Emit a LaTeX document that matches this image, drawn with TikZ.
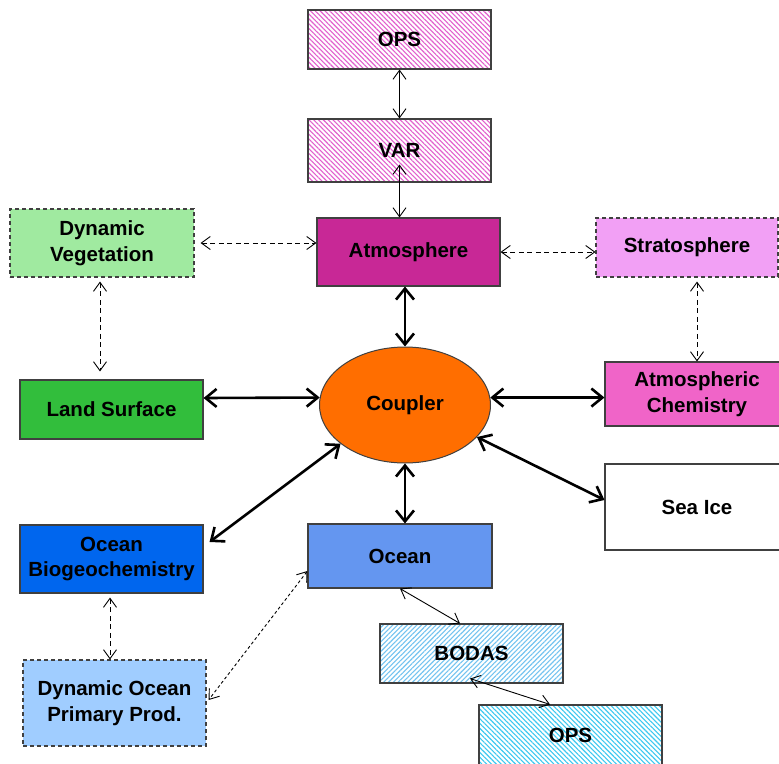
\documentclass[tikz,border=0pt]{standalone}
\usepackage{fontspec}
\setmainfont{Liberation Sans}
\usetikzlibrary{arrows.meta,shapes.geometric,patterns.meta}
\definecolor{pinkS}{RGB}{226,95,205}
\definecolor{atmC}{RGB}{200,40,150}
\definecolor{dvC}{RGB}{160,234,160}
\definecolor{strC}{RGB}{242,160,245}
\definecolor{achC}{RGB}{240,100,200}
\definecolor{landC}{RGB}{50,190,60}
\definecolor{cplC}{RGB}{255,110,0}
\definecolor{obC}{RGB}{0,102,238}
\definecolor{ocC}{RGB}{100,150,240}
\definecolor{dopC}{RGB}{160,205,255}
\definecolor{bodC}{RGB}{115,195,240}
\definecolor{opsC}{RGB}{60,200,240}
\tikzset{
  box/.style={draw=black!75, line width=1.1pt, minimum width=183pt, minimum height=59pt,
    inner sep=0pt, align=center, font=\bfseries\fontsize{20.5}{25.5}\selectfont},
  dbox/.style={box, dash pattern=on 4pt off 3pt},
  hatchA/.style={preaction={fill=white}, preaction={pattern={Lines[angle=-45,distance=3.4pt,line width=1.1pt]}, pattern color=#1}},
  hatchB/.style={preaction={fill=white}, preaction={pattern={Lines[angle=45,distance=3.4pt,line width=1.1pt]}, pattern color=#1}},
  thk/.style={line width=2.6pt, {Straight Barb[length=11pt,width=18pt]}-{Straight Barb[length=11pt,width=18pt]}},
  thn/.style={line width=0.9pt, {Straight Barb[length=9pt,width=13pt]}-{Straight Barb[length=9pt,width=13pt]}},
  dsh/.style={thn, dash pattern=on 5pt off 3.5pt}
}
\begin{document}
\begin{tikzpicture}[x=1pt,y=-1pt]
\useasboundingbox (0,0) rectangle (779,763);
\clip (0,0) rectangle (779,763);
\fill[white] (0,0) rectangle (779,763);
% nodes
\node[box, hatchA=pinkS] (opsA) at (399.5,39.5) {OPS};
\node[box, hatchA=pinkS, minimum height=63pt] (var) at (399.5,150.5) {VAR};
\node[box, fill=atmC, minimum height=68pt] (atm) at (408.5,252) {Atmosphere};
\node[dbox, fill=dvC, minimum width=184pt, minimum height=68pt] (dv) at (102,243) {Dynamic\\Vegetation};
\node[dbox, fill=strC, minimum width=182pt] (str) at (687,247.5) {Stratosphere};
\node[box, fill=achC, minimum width=184pt, minimum height=64pt] (ach) at (697,394) {Atmospheric\\Chemistry};
\node[box, fill=landC] (land) at (111.5,409.5) {Land Surface};
\node[ellipse, draw=black!75, line width=1pt, fill=cplC, minimum width=171pt, minimum height=116pt, inner sep=0pt,
  font=\bfseries\fontsize{20.5}{25.5}\selectfont] (cpl) at (405,405) {Coupler};
\node[box, fill=white, minimum width=184pt, minimum height=86pt] (sea) at (697,507) {Sea Ice};
\node[box, fill=obC, minimum height=68pt] (obio) at (111.5,559) {Ocean\\Biogeochemistry};
\node[box, fill=ocC, minimum width=184pt, minimum height=64pt] (ocean) at (400,556) {Ocean};
\node[dbox, fill=dopC, minimum height=86pt] (dop) at (114.5,703) {Dynamic Ocean\\Primary Prod.};
\node[box, hatchB=bodC] (bod) at (471.5,653.5) {BODAS};
\node[box, hatchA=opsC, minimum height=60pt] (opsB) at (570.5,735) {OPS};
% connectors
\draw[thn] (opsA.south) -- (var.north);
\draw[thn] ([yshift=18pt]var.south) -- (var.south |- atm.north);
\draw[thk] (cpl.north |- atm.south) -- (cpl.north);
\draw[dsh] ([xshift=6pt]dv.east) -- (atm.west |- dv.east);
\draw[dsh] (atm.east) -- (str.west |- atm.east);
\draw[dsh] ([xshift=-2pt,yshift=-4pt]dv.south) -- ([xshift=-11.5pt,yshift=8pt]land.north);
\draw[dsh] ([xshift=10pt,yshift=-4pt]str.south) -- ([xshift=0pt]ach.north);
\draw[thk] ([yshift=11.5pt]land.east) -- (cpl.175);
\draw[thk] (cpl.5) -- (ach.west |- cpl.5);
\draw[thk] (cpl.south) -- (cpl.south |- ocean.north);
\draw[thk] (cpl.-24) -- ([yshift=7pt]sea.west);
\draw[thk] (cpl.211) -- ([xshift=6pt,yshift=17pt]obio.east);
\draw[dsh] ([xshift=-1.5pt,yshift=-4pt]obio.south) -- ([xshift=-4.5pt]dop.north);
\draw[thn, dash pattern=on 3pt off 2.5pt] ([yshift=-15pt]ocean.west) -- ([xshift=2pt,yshift=3pt]dop.east);
\draw[thn] (ocean.south) -- ([xshift=-11.5pt]bod.north);
\draw[thn] ([xshift=-1.5pt,yshift=5pt]bod.south) -- ([xshift=-20.5pt]opsB.north);
\end{tikzpicture}
\end{document}
